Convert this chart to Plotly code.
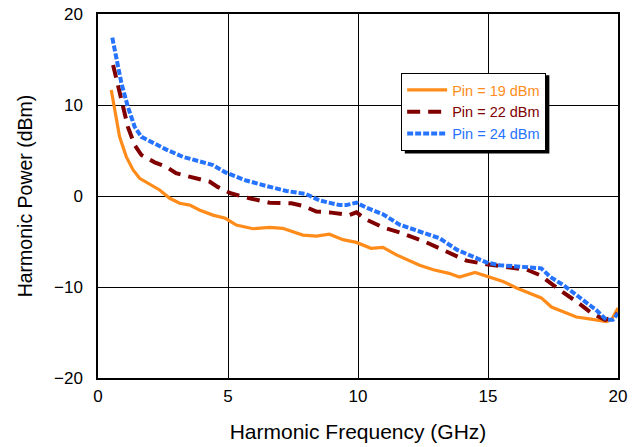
import plotly.graph_objects as go

# Pin = 19 dBm
x19 = [0.51, 0.64, 0.83, 1.09, 1.35, 1.6, 1.99, 2.37, 2.76, 3.14, 3.53, 3.9, 4.42, 4.9,
       5.32, 5.96, 6.6, 7.1, 7.88, 8.4, 8.9, 9.42, 9.94, 10.5, 10.96, 11.5, 12.37, 12.9,
       13.5, 13.9, 14.5, 15.06, 15.58, 16.1, 16.6, 17.05, 17.44, 17.9, 18.4, 18.9, 19.55,
       19.75, 19.9, 20.0]
y19 = [11.65, 9.45, 6.5, 4.3, 2.86, 1.94, 1.3, 0.66, -0.25, -0.8, -1.0, -1.54, -2.1, -2.45,
       -3.2, -3.6, -3.45, -3.55, -4.3, -4.4, -4.2, -4.8, -5.1, -5.75, -5.65, -6.5, -7.6, -8.1,
       -8.5, -8.9, -8.4, -8.9, -9.4, -10.1, -10.7, -11.2, -12.2, -12.7, -13.3, -13.5, -13.8,
       -13.6, -12.9, -12.3]

# Pin = 22 dBm
x22 = [0.58, 0.77, 0.96, 1.15, 1.41, 1.67, 2.18, 2.63, 3.0, 3.65, 4.3, 4.6, 5.1, 5.83,
       6.6, 7.44, 7.9, 8.4, 8.9, 9.67, 9.94, 10.3, 10.96, 11.6, 12.1, 12.63, 13.4, 14.17,
       14.94, 15.7, 16.5, 17.0, 17.4, 17.75, 18.5, 19.0, 19.5, 19.75, 20.0]
y22 = [14.4, 12.0, 9.8, 7.6, 5.6, 4.5, 3.7, 3.2, 2.5, 2.0, 1.57, 1.0, 0.3, -0.25,
       -0.73, -0.8, -1.1, -1.7, -1.8, -2.1, -1.8, -2.56, -3.45, -4.0, -4.5, -5.1, -6.1, -7.1,
       -7.5, -7.8, -8.1, -8.7, -9.6, -10.3, -11.8, -12.9, -13.6, -13.4, -12.9]

# Pin = 24 dBm
x24 = [0.55, 0.71, 0.9, 1.15, 1.41, 1.67, 2.12, 2.63, 3.27, 3.9, 4.42, 4.9, 5.45, 5.7,
       6.48, 7.25, 8.0, 8.53, 9.3, 9.55, 9.94, 10.3, 10.96, 11.6, 12.37, 13.14, 13.8, 14.4,
       14.94, 15.45, 16.5, 17.05, 17.4, 17.9, 18.5, 19.15, 19.55, 19.8, 20.0]
y24 = [17.4, 14.9, 12.4, 9.8, 7.6, 6.5, 5.8, 5.1, 4.3, 3.8, 3.4, 2.6, 1.95, 1.7,
       1.1, 0.55, 0.22, -0.5, -1.0, -1.0, -0.73, -1.25, -2.0, -3.15, -3.9, -4.65, -5.9, -6.7,
       -7.3, -7.6, -7.8, -7.95, -8.9, -9.8, -11.1, -12.5, -13.6, -13.6, -12.9]

names = ["Pin = 19 dBm", "Pin = 22 dBm", "Pin = 24 dBm"]
colors = ["#FF8C1A", "#800000", "#2673FF"]
dashes = ["solid", "13px,8px", "6px,2px"]
widths = [3.2, 4.0, 4.0]
xs = [x19, x22, x24]
ys = [y19, y22, y24]

fig = go.Figure()
for x, y, n, c, d, w in zip(xs, ys, names, colors, dashes, widths):
    fig.add_trace(go.Scatter(
        x=x, y=y, mode="lines",
        name=f"<span style='color:{c}'>{n}</span>",
        line=dict(color=c, dash=d, width=w),
    ))

# legend shadow
fig.add_shape(type="rect", xref="paper", yref="paper",
              x0=0.590, x1=0.868, y0=0.617, y1=0.832,
              fillcolor="black", line=dict(width=0), layer="below")

fig.update_layout(
    width=640, height=447,
    margin=dict(l=98, r=22, t=14, b=69, autoexpand=False),
    paper_bgcolor="white", plot_bgcolor="white",
    font=dict(family="Liberation Sans, Arial, sans-serif", size=17, color="black"),
    showlegend=True,
    legend=dict(x=0.583, y=0.838, xanchor="left", yanchor="top",
                bgcolor="white", bordercolor="black", borderwidth=1,
                font=dict(size=14.5), itemwidth=40),
    xaxis=dict(range=[0, 20], dtick=5, tick0=0, showgrid=True, gridcolor="black",
               gridwidth=1, showline=True, linecolor="black", linewidth=1.5, mirror=True,
               zeroline=False, ticks="", ticklen=0, ticklabelstandoff=2, automargin=False,
               title=dict(text="Harmonic Frequency (GHz)", standoff=19, font=dict(size=21))),
    yaxis=dict(range=[-20, 20], dtick=10, tick0=-20, showgrid=True, gridcolor="black",
               gridwidth=1, showline=True, linecolor="black", linewidth=1.5, mirror=True,
               zeroline=False, ticks="", ticklen=0, ticklabelstandoff=10, automargin=False,
               title=dict(text="Harmonic Power (dBm)", standoff=16, font=dict(size=19.5))),
)

fig.write_html("out.html", config={"displayModeBar": False},
               post_script="document.body.style.margin='0';document.body.style.padding='0';")
